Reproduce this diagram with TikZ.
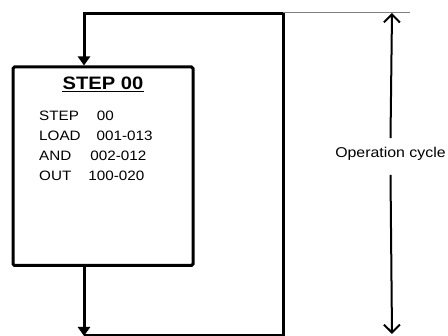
\documentclass[tikz,border=0pt]{standalone}
\usepackage{fontspec}
\setmainfont{Liberation Sans}[FakeStretch=1.12]
\usetikzlibrary{positioning, arrows.meta}

\begin{document}
\begin{tikzpicture}[
		x=1pt, y=-1pt,
		stepbox/.style={draw, rectangle, rounded corners=1.5pt, line width=3pt, minimum width=180pt, minimum height=198.5pt},
		flow/.style={line width=3pt},
		flowarrow/.style={flow, -{Triangle[length=9pt, width=12pt]}},
		cyclearrow/.style={line width=2pt, -{Straight Barb[length=8pt, width=16pt]}},
		plain/.style={inner sep=0pt, align=left}
		]
		\useasboundingbox (0,0) rectangle (448,336);
		
		% Nodes
		\node[stepbox] (step00) at (103,166.25) {};
		
		\node[plain, font=\fontsize{18}{20}\selectfont\bfseries, below=11pt of step00.north] (title) {STEP 00};
		
		\node[plain, anchor=north west, font=\fontsize{13.6}{20}\selectfont] (prog) at (39,110.8) {STEP\hspace{18pt}00\\LOAD\hspace{16pt}001-013\\AND\hspace{19pt}002-012\\OUT\hspace{17pt}100-020};
		
		\node[plain, font=\fontsize{14.2}{16}\selectfont] (opcycle) at (390.5,154) {Operation cycle};
		
		% Loop corners
		\coordinate (enter) at (84,13.5);
		\coordinate (ctop) at (283,13.5);
		\coordinate (exit) at (84,336);
		\coordinate (tick) at (410,12.5);
		\coordinate (cyctop) at (392,13);
		\coordinate (cycbot) at (392,334);
		
		% Underline of the title
		\draw[line width=1.2pt] ([yshift=-1.8pt]title.south west) -- ([yshift=-1.8pt]title.south east);
		
		% Arrows
		\draw[flowarrow] (ctop) -- (enter) -- (enter |- step00.north);
		
		\draw[flowarrow] (exit |- step00.south) -- (exit);
		
		\draw[flow] (exit) -| (ctop);
		
		\draw[gray, line width=1pt] (ctop |- tick) -- (tick);
		
		\draw[cyclearrow] ([yshift=9pt]opcycle.north) -- (cyctop);
		\draw[cyclearrow] ([yshift=-14pt]opcycle.south) -- (cycbot);
		
	\end{tikzpicture}
\end{document}
